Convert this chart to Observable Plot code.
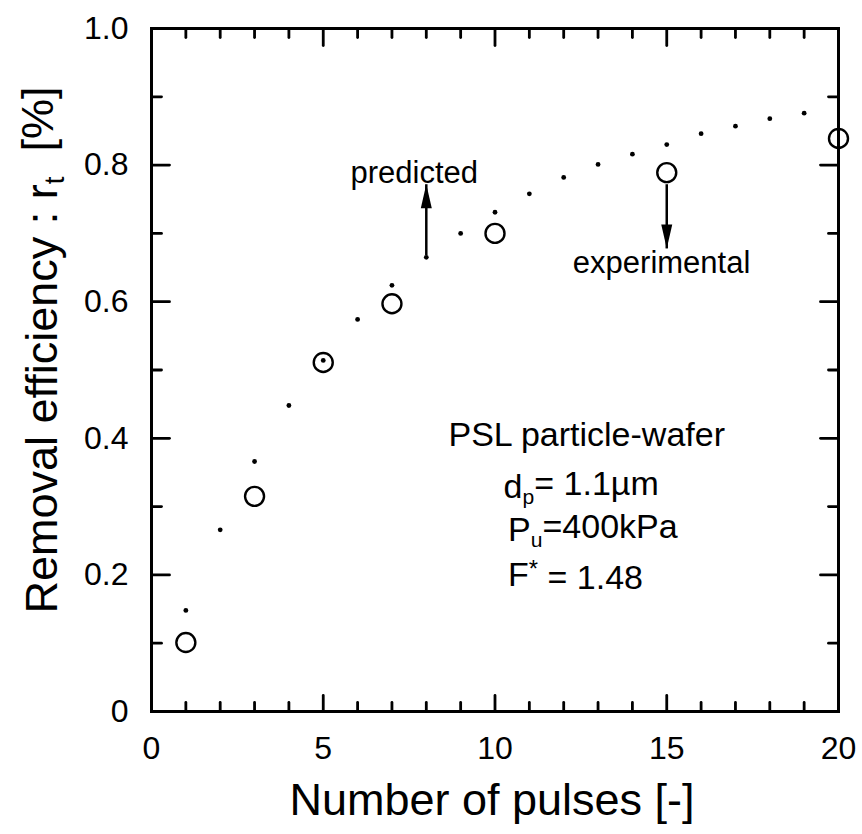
<!DOCTYPE html>
<html><head><meta charset="utf-8">
<script src="https://cdn.jsdelivr.net/npm/d3@7"></script>
<script src="https://cdn.jsdelivr.net/npm/@observablehq/plot@0.6"></script>
<style>
html,body{margin:0;padding:0;background:#fff}
svg{display:block}
</style>
</head><body><div id="chart"></div>
<script>
// ---- data ----
const pulsesExp = [1, 3, 5, 7, 10, 15, 20];
const effExp = [0.101, 0.315, 0.511, 0.597, 0.700, 0.789, 0.839];
const pulsesPred = [1, 2, 3, 4, 5, 6, 7, 8, 9, 10, 11, 12, 13, 14, 15, 16, 17, 18, 19];
const effPred = [0.148, 0.266, 0.366, 0.448, 0.514, 0.574, 0.624, 0.665, 0.700, 0.731, 0.758, 0.782, 0.801, 0.816, 0.830, 0.846, 0.857, 0.868, 0.876];

const xMajor = [0, 5, 10, 15, 20];
const xTickLabels = ["0", "5", "10", "15", "20"];
const xMinor = [1, 2, 3, 4, 6, 7, 8, 9, 11, 12, 13, 14, 16, 17, 18, 19];
const yMajor = [0, 0.2, 0.4, 0.6, 0.8, 1.0];
const yTickLabels = ["0", "0.2", "0.4", "0.6", "0.8", "1.0"];
const yMinor = [0.1, 0.3, 0.5, 0.7, 0.9];

const xTitle = "Number of pulses [-]";
const yTitle = "Removal efficiency : r_{t}  [%]";

// annotation arrows (data coordinates)
const arrowX = [8, 15];
const arrowFrom = [0.668, 0.772];
const arrowTo = [0.772, 0.678];
const arrowDir = [0, 180];

// annotation labels
const noteText = ["predicted", "experimental"];
const noteX = [7.65, 14.85];
const noteY = [0.789, 0.656];

const infoText = ["PSL particle-wafer", "d_{p}= 1.1\u00b5m", "P_{u}=400kPa", "F^{*} = 1.48"];
const infoX = [12.67, 10.25, 10.38, 10.38];
const infoY = [0.405, 0.328, 0.265, 0.200];
const infoAnchor = ["middle", "start", "start", "start"];

// ---- tables ----
const expData = pulsesExp.map((x, i) => ({x, y: effExp[i]}));
const predData = pulsesPred.map((x, i) => ({x, y: effPred[i]}));
const arrows = arrowX.map((x, i) => ({x, y1: arrowFrom[i], y2: arrowTo[i], rot: arrowDir[i]}));
const notes = noteText.map((t, i) => ({t, x: noteX[i], y: noteY[i]}));
const infos = infoText.map((t, i) => ({t, x: infoX[i], y: infoY[i], a: infoAnchor[i]}));

const headSymbol = {
  draw(ctx) {
    ctx.moveTo(0, 0);
    ctx.lineTo(-5.5, 24);
    ctx.lineTo(5.5, 24);
    ctx.closePath();
  }
};
const tickShape = {
  draw(ctx, l) {
    ctx.moveTo(0, 0);
    ctx.lineTo(0, -l);
  }
};

const font = "'Liberation Sans', Arial, Helvetica, sans-serif";
const tk = {shape: tickShape, anchor: "start", stroke: "black", strokeWidth: 2.8};

const chart = Plot.plot({
  width: 862,
  height: 834,
  marginLeft: 151,
  marginRight: 24,
  marginTop: 28,
  marginBottom: 123,
  style: {fontFamily: font, color: "black", background: "white"},
  x: {domain: [0, 20], axis: null},
  y: {domain: [0, 1], axis: null},
  marks: [
    // inward ticks on all four sides
    Plot.vector(xMajor, {...tk, x: d => d, frameAnchor: "bottom", rotate: 0, length: 16}),
    Plot.vector(xMinor, {...tk, x: d => d, frameAnchor: "bottom", rotate: 0, length: 9}),
    Plot.vector(xMajor, {...tk, x: d => d, frameAnchor: "top", rotate: 180, length: 17}),
    Plot.vector(xMinor, {...tk, x: d => d, frameAnchor: "top", rotate: 180, length: 9}),
    Plot.vector(yMajor, {...tk, y: d => d, frameAnchor: "left", rotate: 90, length: 18}),
    Plot.vector(yMinor, {...tk, y: d => d, frameAnchor: "left", rotate: 90, length: 10}),
    Plot.vector(yMajor, {...tk, y: d => d, frameAnchor: "right", rotate: -90, length: 18}),
    Plot.vector(yMinor, {...tk, y: d => d, frameAnchor: "right", rotate: -90, length: 10}),
    Plot.frame({stroke: "black", strokeWidth: 3}),
    Plot.text(xMajor, {x: d => d, text: (d, i) => xTickLabels[i], frameAnchor: "bottom", dy: 37, fontSize: 32, lineAnchor: "middle"}),
    Plot.text(yMajor, {y: d => d, text: (d, i) => yTickLabels[i], frameAnchor: "left", dx: -23, textAnchor: "end", fontSize: 32, lineAnchor: "middle"}),
    Plot.text([xTitle], {text: d => d, frameAnchor: "bottom", dx: -3, dy: 89, fontSize: 45, lineAnchor: "middle"}),
    Plot.text([yTitle], {text: d => d, frameAnchor: "left", dx: -109, dy: -20, rotate: -90, fontSize: 45, lineAnchor: "middle", textAnchor: "middle"}),
    Plot.dot(expData, {x: "x", y: "y", r: 9.5, stroke: "black", strokeWidth: 2.4, fill: "none"}),
    Plot.dot(predData, {x: "x", y: "y", r: 2.4, fill: "black", stroke: "none"}),
    Plot.link(arrows, {x1: "x", x2: "x", y1: "y1", y2: "y2", stroke: "black", strokeWidth: 2.5}),
    Plot.dot(arrows, {x: "x", y: "y2", symbol: headSymbol, rotate: "rot", fill: "black", stroke: "none", r: 10}),
    Plot.text(notes, {x: "x", y: "y", text: "t", fontSize: 31, lineAnchor: "middle", textAnchor: "middle"}),
    Plot.text(infos, {x: "x", y: "y", text: "t", fontSize: 34, lineAnchor: "middle", textAnchor: "start", filter: d => d.a === "start"}),
    Plot.text(infos, {x: "x", y: "y", text: "t", fontSize: 34, lineAnchor: "middle", textAnchor: "middle", filter: d => d.a === "middle"})
  ]
});

// render _{sub} and ^{sup} markup as tspans
d3.select(chart).selectAll("text").each(function() {
  const el = this;
  const tspans = el.querySelectorAll("tspan");
  const target = tspans.length ? tspans[0] : el;
  const s = target.textContent;
  if (!/[_^]\{/.test(s)) return;
  const parts = s.split(/([_^]\{[^}]*\})/);
  target.textContent = "";
  const NS = "http://www.w3.org/2000/svg";
  let shift = 0;
  parts.forEach(p => {
    if (!p) return;
    const t = document.createElementNS(NS, "tspan");
    let want = 0;
    if (p.startsWith("_{")) { want = 0.25; t.setAttribute("font-size", "0.62em"); p = p.slice(2, -1); }
    else if (p.startsWith("^{")) { want = -0.35; t.setAttribute("font-size", "0.7em"); p = p.slice(2, -1); }
    const delta = want - shift;
    if (delta !== 0) t.setAttribute("dy", delta + "em");
    shift = want;
    t.textContent = p;
    target.appendChild(t);
  });
});

document.getElementById("chart").appendChild(chart);
</script>
</body></html>
